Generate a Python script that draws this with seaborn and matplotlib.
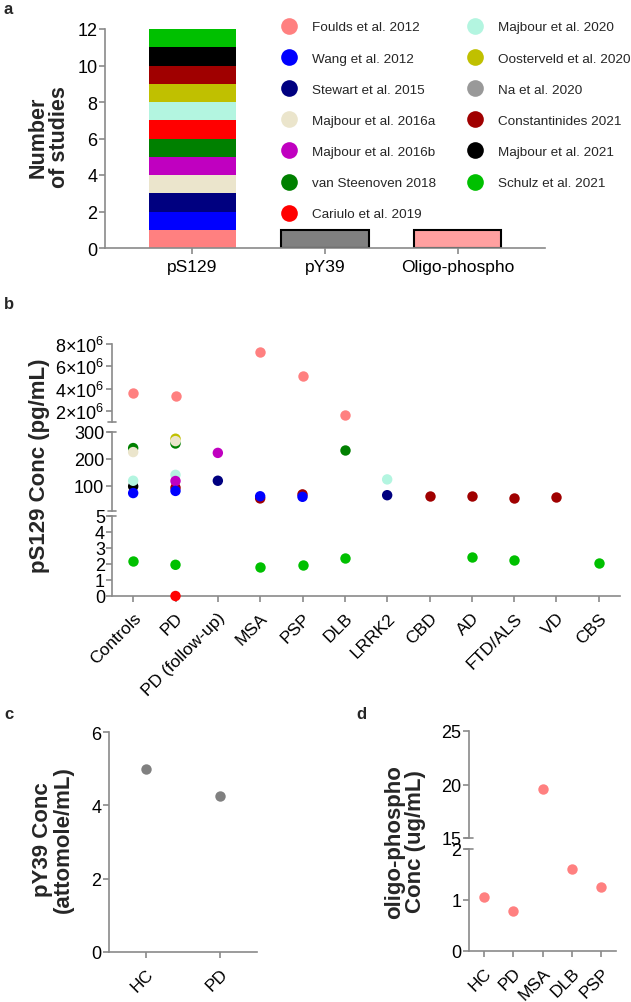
import matplotlib
matplotlib.use("Agg")
import numpy as np
import pandas as pd
import matplotlib.pyplot as plt
import seaborn as sns
from matplotlib.lines import Line2D

# ---- data ----
studies = ['Foulds et al. 2012', 'Wang et al. 2012', 'Stewart et al. 2015',
           'Majbour et al. 2016a', 'Majbour et al. 2016b', 'van Steenoven 2018',
           'Cariulo et al. 2019', 'Majbour et al. 2020', 'Oosterveld et al. 2020',
           'Na et al. 2020', 'Constantinides 2021', 'Majbour et al. 2021',
           'Schulz et al. 2021']
study_colors = ['#FF8080', '#0000FF', '#000080', '#EBE5CC', '#C000C0', '#008000',
                '#FF0000', '#B3F5E0', '#C0C000', '#999999', '#A00000', '#000000',
                '#00C000']
palette = dict(zip(studies, study_colors))

# panel a: studies per phospho form
assays = ['pS129', 'pY39', 'Oligo-phospho']
a_assay = ['pS129'] * 12 + ['pY39', 'Oligo-phospho']
a_study = ['Foulds et al. 2012', 'Wang et al. 2012', 'Stewart et al. 2015',
           'Majbour et al. 2016a', 'Majbour et al. 2016b', 'van Steenoven 2018',
           'Cariulo et al. 2019', 'Majbour et al. 2020', 'Oosterveld et al. 2020',
           'Constantinides 2021', 'Majbour et al. 2021', 'Schulz et al. 2021',
           'Na et al. 2020', 'Foulds et al. 2012']
a_count = [1] * 14
single_bar_colors = {'pY39': '#808080', 'Oligo-phospho': '#FFA0A0'}

# panel b: pS129 concentration (pg/mL)
b_groups = ['Controls', 'PD', 'PD (follow-up)', 'MSA', 'PSP', 'DLB', 'LRRK2',
            'CBD', 'AD', 'FTD/ALS', 'VD', 'CBS']
b_group = ['Controls', 'Controls', 'Controls', 'Controls', 'Controls', 'Controls', 'Controls',
           'PD', 'PD', 'PD', 'PD', 'PD', 'PD', 'PD', 'PD', 'PD', 'PD',
           'PD (follow-up)', 'PD (follow-up)',
           'MSA', 'MSA', 'MSA', 'MSA',
           'PSP', 'PSP', 'PSP', 'PSP',
           'DLB', 'DLB', 'DLB',
           'LRRK2', 'LRRK2',
           'CBD',
           'AD', 'AD',
           'FTD/ALS', 'FTD/ALS',
           'VD',
           'CBS']
b_study = ['Foulds et al. 2012', 'van Steenoven 2018', 'Majbour et al. 2016a',
           'Majbour et al. 2021', 'Majbour et al. 2020', 'Wang et al. 2012', 'Schulz et al. 2021',
           'Foulds et al. 2012', 'Oosterveld et al. 2020', 'van Steenoven 2018',
           'Majbour et al. 2016a', 'Constantinides 2021', 'Majbour et al. 2020',
           'Majbour et al. 2016b', 'Wang et al. 2012', 'Schulz et al. 2021', 'Cariulo et al. 2019',
           'Majbour et al. 2016b', 'Stewart et al. 2015',
           'Foulds et al. 2012', 'Constantinides 2021', 'Wang et al. 2012', 'Schulz et al. 2021',
           'Foulds et al. 2012', 'Constantinides 2021', 'Wang et al. 2012', 'Schulz et al. 2021',
           'Foulds et al. 2012', 'van Steenoven 2018', 'Schulz et al. 2021',
           'Majbour et al. 2020', 'Stewart et al. 2015',
           'Constantinides 2021',
           'Constantinides 2021', 'Schulz et al. 2021',
           'Constantinides 2021', 'Schulz et al. 2021',
           'Constantinides 2021',
           'Schulz et al. 2021']
b_value = [3.62e6, 240, 225, 97, 118, 72, 2.2,
           3.35e6, 275, 257, 266, 92, 140, 117, 80, 1.95, 0.0,
           222, 118,
           7.25e6, 52, 60, 1.8,
           5.15e6, 67, 58, 1.95,
           1.65e6, 232, 2.35,
           123, 64,
           61,
           61, 2.45,
           52, 2.25,
           57,
           2.05]

# panel c: pY39 concentration (attomole/mL)
c_groups = ['HC', 'PD']
c_values = [5.0, 4.25]

# panel d: oligo-phospho concentration (ug/mL)
d_groups = ['HC', 'PD', 'MSA', 'DLB', 'PSP']
d_values = [1.05, 0.78, 19.6, 1.6, 1.25]

# ---- style ----
sns.set_theme(style="ticks")
plt.rcParams['font.family'] = ['Liberation Sans', 'DejaVu Sans']
plt.rcParams['mathtext.fontset'] = 'custom'
plt.rcParams['mathtext.rm'] = 'Liberation Sans'
plt.rcParams['mathtext.default'] = 'regular'

W, H = 631, 1003
fig = plt.figure(figsize=(W / 100, H / 100), dpi=100)
GREY = '#8a8a8a'
YFS, XFS, LABFS = 13, 12.5, 15.5


def add_ax(left, top, right, bottom):
    return fig.add_axes([left / W, 1 - bottom / H, (right - left) / W, (bottom - top) / H])


def style_ax(ax, show_x=True):
    sns.despine(ax=ax, top=True, right=True, bottom=not show_x)
    for s in ['left', 'bottom']:
        ax.spines[s].set_color(GREY)
        ax.spines[s].set_linewidth(1.2)
    ax.tick_params(color=GREY, width=1.2, length=4, labelcolor='black', pad=2)
    ax.tick_params(axis='y', labelsize=YFS, pad=1.5)
    ax.tick_params(axis='x', labelsize=XFS)
    if not show_x:
        ax.tick_params(axis='x', bottom=False, labelbottom=False)
    ax.set_xlabel('')
    ax.set_ylabel('')


def rotate_xlabels(ax):
    ax.tick_params(axis='x', pad=6)
    for lab in ax.get_xticklabels():
        lab.set_rotation(45)
        lab.set_ha('right')
        lab.set_rotation_mode('anchor')


def break_mark(ax, y, width_px):
    d = 4.0 / width_px
    ax.plot([-d, d], [y, y], transform=ax.transAxes, color=GREY, lw=1.2, clip_on=False)


# ---- panel a ----
ax_a = add_ax(105, 30, 545, 249)
df_a = pd.DataFrame({'assay': a_assay, 'study': a_study, 'count': a_count})
for i, assay in enumerate(assays):
    sub = df_a[df_a['assay'] == assay]
    bottom = 0
    for _, row in sub.iterrows():
        if len(sub) == 1:
            ax_a.bar(i, row['count'], bottom=bottom, width=0.66,
                     color=single_bar_colors[assay], edgecolor='black', linewidth=1.5)
        else:
            ax_a.bar(i, row['count'], bottom=bottom, width=0.66,
                     color=palette[row['study']], edgecolor='none')
        bottom += row['count']
ax_a.set_xlim(-0.66, 2.66)
ax_a.set_ylim(0, 12)
ax_a.set_yticks(range(0, 13, 2))
ax_a.set_xticks(range(len(assays)), assays)
style_ax(ax_a)
ax_a.tick_params(axis='x', pad=4)
for sp in ax_a.spines.values():
    sp.set_zorder(3)
fig.text(49 / W, 1 - 137 / H, 'Number\nof studies', rotation=90, ha='center', va='center',
         fontsize=LABFS, fontweight='bold', linespacing=1.0)

handles = [Line2D([], [], marker='o', linestyle='none', markersize=12,
                  markerfacecolor=c, markeredgecolor='none', label=s)
           for s, c in zip(studies, study_colors)]
fig.legend(handles=handles, loc='upper left', bbox_to_anchor=(282 / W, 1 - 22 / H), ncol=2,
           frameon=False, fontsize=9.7, handlelength=1.0, handletextpad=1.2,
           labelspacing=1.39, columnspacing=2.4, borderpad=0, borderaxespad=0)

# ---- panel b (broken y axis) ----
df_b = pd.DataFrame({'group': b_group, 'study': b_study, 'value': b_value})
ax_b1 = add_ax(112, 345, 620, 423)
ax_b2 = add_ax(112, 433, 620, 512)
ax_b3 = add_ax(112, 517, 620, 597)
segments = [(ax_b1, 1e6, 8e6), (ax_b2, 5, 300), (ax_b3, 0, 5)]
for ax, lo, hi in segments:
    sub = df_b[(df_b['value'] > lo) & (df_b['value'] <= hi)] if lo > 0 else df_b[df_b['value'] <= hi]
    sns.stripplot(data=sub, x='group', y='value', hue='study', order=b_groups,
                  hue_order=studies, palette=palette, jitter=False, size=7.5,
                  linewidth=0, legend=False, ax=ax, clip_on=False, zorder=4)
    ax.set_xlim(-0.5, len(b_groups) - 0.5)
    ax.set_ylim(lo, hi)

ax_b1.set_yticks([2e6, 4e6, 6e6, 8e6],
                 [r'$2{\times}10^{6}$', r'$4{\times}10^{6}$', r'$6{\times}10^{6}$', r'$8{\times}10^{6}$'])
ax_b2.set_yticks([100, 200, 300])
ax_b3.set_yticks(range(0, 6))
style_ax(ax_b1, show_x=False)
style_ax(ax_b2, show_x=False)
style_ax(ax_b3)
ax_b3.tick_params(axis='y', pad=1)
rotate_xlabels(ax_b3)
break_mark(ax_b1, 0, 508)
break_mark(ax_b2, 1, 508)
break_mark(ax_b2, 0, 508)
break_mark(ax_b3, 1, 508)
fig.text(40 / W, 1 - 466 / H, 'pS129 Conc (pg/mL)', rotation=90, ha='center', va='center',
         fontsize=LABFS + 0.5, fontweight='bold')

# ---- panel c ----
ax_c = add_ax(109, 733, 257, 953)
sns.stripplot(x=c_groups, y=c_values, color='#808080', jitter=False, size=7.5,
              linewidth=0, ax=ax_c)
ax_c.set_xlim(-0.5, 1.5)
ax_c.set_ylim(0, 6)
ax_c.set_yticks([0, 2, 4, 6])
style_ax(ax_c)
rotate_xlabels(ax_c)
fig.text(53 / W, 1 - 840 / H, 'pY39 Conc\n(attomole/mL)', rotation=90, ha='center', va='center',
         fontsize=LABFS + 0.5, fontweight='bold', linespacing=1.0)

# ---- panel d (broken y axis) ----
df_d = pd.DataFrame({'group': d_groups, 'value': d_values})
ax_d1 = add_ax(469, 732, 616, 839)
ax_d2 = add_ax(469, 850, 616, 952)
for ax, lo, hi in [(ax_d1, 15, 25), (ax_d2, 0, 2)]:
    sub = df_d[(df_d['value'] >= lo) & (df_d['value'] <= hi)]
    sns.stripplot(data=sub, x='group', y='value', order=d_groups, color='#FF8080',
                  jitter=False, size=7.5, linewidth=0, ax=ax, clip_on=False)
    ax.set_xlim(-0.5, len(d_groups) - 0.5)
    ax.set_ylim(lo, hi)
ax_d1.set_yticks([15, 20, 25])
ax_d2.set_yticks([0, 1, 2])
style_ax(ax_d1, show_x=False)
style_ax(ax_d2)
rotate_xlabels(ax_d2)
break_mark(ax_d1, 0, 147)
break_mark(ax_d2, 1, 147)
fig.text(405 / W, 1 - 842 / H, 'oligo-phospho\nConc (ug/mL)', rotation=90, ha='center', va='center',
         fontsize=LABFS + 0.5, fontweight='bold', linespacing=1.0)

# panel letters
for x, y, s in [(4, 10, 'a'), (4, 305, 'b'), (4, 715, 'c'), (356, 715, 'd')]:
    fig.text(x / W, 1 - y / H, s, ha='left', va='center', fontsize=12, fontweight='bold')

fig.savefig('out.png', dpi=100)
